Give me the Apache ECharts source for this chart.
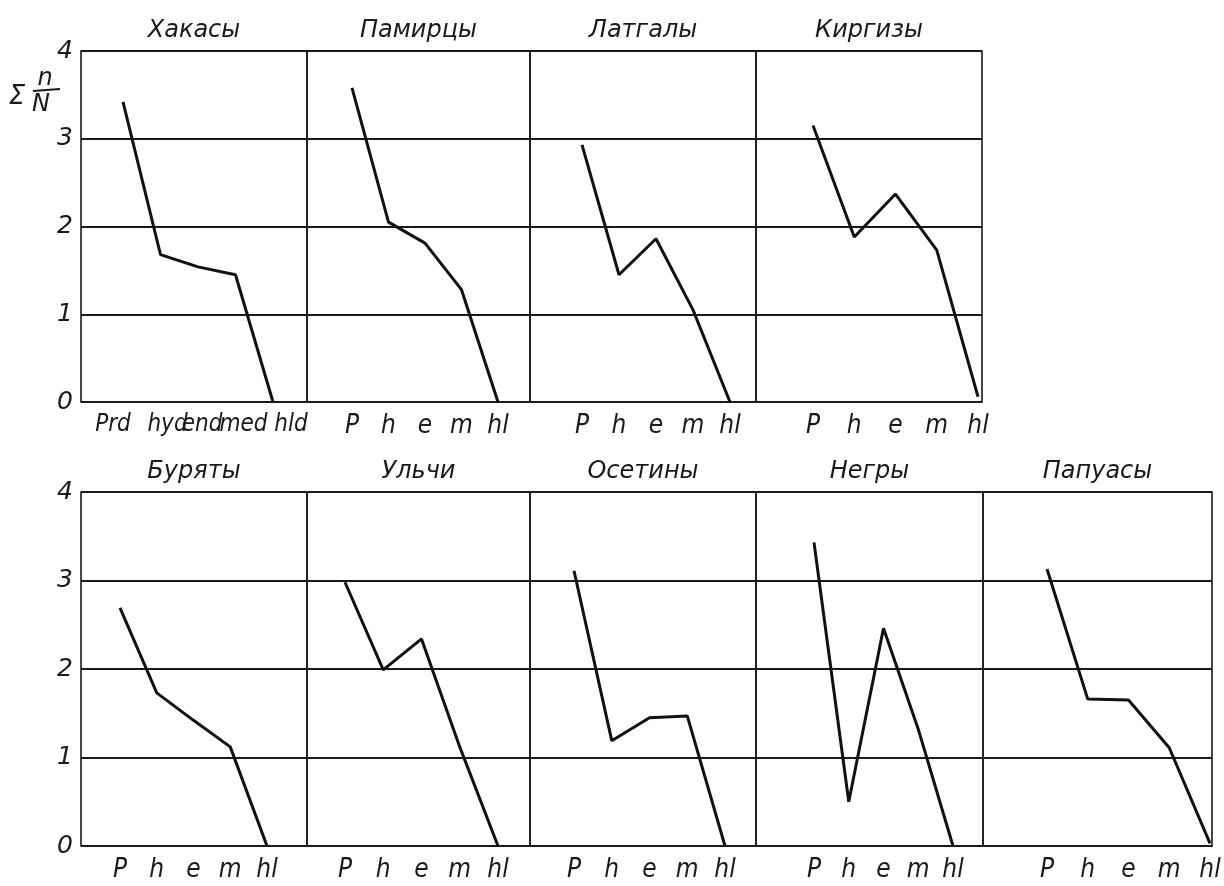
<!DOCTYPE html>
<html>
<head>
<meta charset="utf-8">
<script src="https://cdn.jsdelivr.net/npm/echarts@6/dist/echarts.min.js"></script>
<style>
html,body{margin:0;padding:0;background:#fff;}
#chart{width:1224px;height:886px;}
</style>
</head>
<body>
<div id="chart"></div>
<script>
// ---- data ----
const panelNames = ['Хакасы','Памирцы','Латгалы','Киргизы','Буряты','Ульчи','Осетины','Негры','Папуасы'];
const catsKhakasy = ['Prd','hyd','end','med','hld'];
const catsStd = ['P','h','e','m','hl'];
const yTicks = [0,1,2,3,4];
const khakasy  = [3.42,1.68,1.54,1.45,0];
const pamirtsy = [3.58,2.05,1.81,1.28,0];
const latgaly  = [2.93,1.45,1.86,1.05,0];
const kirgizy  = [3.15,1.88,2.37,1.73,0.06];
const buryaty  = [2.69,1.73,1.42,1.12,0];
const ulchi    = [2.98,1.99,2.34,1.12,0];
const osetiny  = [3.11,1.19,1.45,1.47,0];
const negry    = [3.43,0.50,2.46,1.32,0];
const papuasy  = [3.13,1.66,1.65,1.11,0.03];
const seriesValues = [khakasy,pamirtsy,latgaly,kirgizy,buryaty,ulchi,osetiny,negry,papuasy];
const seriesCats = [catsKhakasy,catsStd,catsStd,catsStd,catsStd,catsStd,catsStd,catsStd,catsStd];

// ---- layout ----
const frames = [
  [81,51,226,351],[307,51,223,351],[530,51,226,351],[756,51,226,351],
  [81,492,226,354],[307,492,223,354],[530,492,226,354],[756,492,227,354],[983,492,229,354]
];
const spans = [[123,273],[352,498],[582,730],[813,978],[120,267],[345,498],[574,725],[814,953],[1047,1210]];
// horizontal label shifts (px) for the first panel's long labels
const labelShift = [[-10,7,4,8,18],null,null,null,null,null,null,null,null];
const firstInRow = [0,4];
const titleY = [31,31,31,31,472,472,472,472,472];

const ink = '#1a1a1a';
const fontFam = "'Liberation Sans Narrow','DejaVu Sans Condensed','Liberation Sans',sans-serif";

const grid = [], xAxis = [], yAxis = [], series = [], graphic = [];
frames.forEach((f,i)=>{
  const [l,t,w,h] = f;
  grid.push({left:l, top:t, width:w, height:h, show:true, borderColor:ink, borderWidth:1.6, backgroundColor:'transparent'});
  xAxis.push({gridIndex:2*i, type:'category', data:[''], show:false});
  yAxis.push({gridIndex:2*i, type:'value', min:0, max:4, interval:1,
    axisLine:{show:false}, axisTick:{show:false},
    axisLabel:{show: firstInRow.includes(i), margin:8, color:ink, fontSize:25, fontStyle:'italic', fontFamily:"'DejaVu Sans',sans-serif", fontWeight:'normal'},
    splitLine:{show:true, lineStyle:{color:ink, width:1.8}}});
  const s = spans[i];
  grid.push({left:s[0], top:t, width:s[1]-s[0], height:h});
  const sh = labelShift[i];
  const catData = seriesCats[i].map((c,k)=> sh ? {value:c, textStyle:{padding: sh[k]>=0 ? [0,0,0,2*sh[k]] : [0,-2*sh[k],0,0]}} : c);
  xAxis.push({gridIndex:2*i+1, type:'category', boundaryGap:false, data:catData,
    axisLine:{show:false}, axisTick:{show:false}, splitLine:{show:false},
    axisLabel:{interval:0, hideOverlap:false, margin:11, color:ink, fontSize: sh ? 24 : 26, fontStyle:'italic', fontFamily:fontFam}});
  yAxis.push({gridIndex:2*i+1, type:'value', min:0, max:4, show:false});
  series.push({type:'line', xAxisIndex:2*i+1, yAxisIndex:2*i+1, data:seriesValues[i],
    symbol:'none', silent:true, lineStyle:{color:'#111', width:3}});
  graphic.push({type:'text', x:l+w/2, y:titleY[i], style:{text:panelNames[i], font:"italic 24px 'DejaVu Sans',sans-serif", fill:ink, align:'center', verticalAlign:'middle', textAlign:'center', textVerticalAlign:'middle'}});
});
// y-axis name  Σ n/N
graphic.push({type:'text', x:17, y:97, style:{text:'Σ', font:"italic 26px 'DejaVu Sans',sans-serif", fill:ink, align:'center', verticalAlign:'middle', textAlign:'center', textVerticalAlign:'middle'}});
graphic.push({type:'text', x:45, y:79, style:{text:'n', font:"italic 24px 'DejaVu Sans',sans-serif", fill:ink, align:'center', verticalAlign:'middle', textAlign:'center', textVerticalAlign:'middle'}});
graphic.push({type:'line', shape:{x1:33,y1:91,x2:60,y2:89}, style:{stroke:ink, lineWidth:1.8}});
graphic.push({type:'text', x:41, y:105, style:{text:'N', font:"italic 24px 'DejaVu Sans',sans-serif", fill:ink, align:'center', verticalAlign:'middle', textAlign:'center', textVerticalAlign:'middle'}});

const chart = echarts.init(document.getElementById('chart'), null, {renderer:'canvas'});
chart.setOption({
  backgroundColor:'#fff',
  animation:false,
  grid, xAxis, yAxis, series, graphic
});
</script>
</body>
</html>
